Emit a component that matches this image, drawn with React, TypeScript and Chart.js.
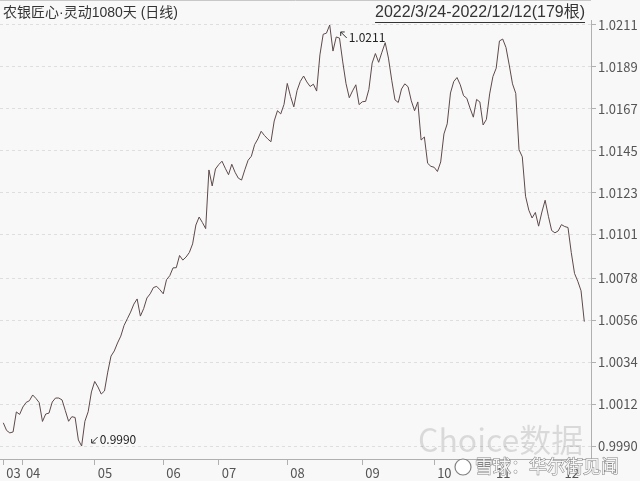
import React, { useEffect, useRef } from 'react';
import { Chart, registerables } from 'chart.js';

Chart.register(...registerables);

const fundName = '农银匠心·灵动1080天 (日线)';
const rangeLabel = '2022/3/24-2022/12/12(179根)';
const watermarkMain = 'Choice数据';
const watermarkSub = '雪球：华尔街见闻';

const monthTickIndex = [0, 6, 28, 49, 66, 87, 110, 132, 150, 171];
const monthTickLabels = ['03', '04', '05', '06', '07', '08', '09', '10', '11', '12'];

const yTickValues = [0.999, 1.0012, 1.0034, 1.0056, 1.0078, 1.0101, 1.0123, 1.0145, 1.0167, 1.0189, 1.0211];

const navValues = [
  1.00022, 0.99982, 0.99969, 0.99974, 1.00079, 1.00066, 1.00105, 1.00129, 1.00138, 1.00168,
  1.0015, 1.00128, 1.00029, 1.00068, 1.00073, 1.00131, 1.00152, 1.00152, 1.00142, 1.00086,
  1.0003, 1.00054, 1.0005, 0.99932, 0.999, 1.0003, 1.0008, 1.00184, 1.00239, 1.0021,
  1.00173, 1.00189, 1.00288, 1.00372, 1.00399, 1.00441, 1.00477, 1.00533, 1.00568, 1.00603,
  1.00645, 1.00672, 1.00582, 1.00621, 1.00677, 1.00699, 1.00732, 1.00738, 1.0072, 1.00699,
  1.00773, 1.00794, 1.00835, 1.00836, 1.009, 1.00876, 1.00892, 1.00916, 1.00961, 1.0106,
  1.01102, 1.01073, 1.01041, 1.01349, 1.01265, 1.01354, 1.01377, 1.01395, 1.01358, 1.01324,
  1.01379, 1.01337, 1.01306, 1.01296, 1.0135, 1.014, 1.01421, 1.01482, 1.01512, 1.01552,
  1.0153, 1.01512, 1.01497, 1.01606, 1.0166, 1.01643, 1.01693, 1.01803, 1.01735, 1.0168,
  1.01766, 1.01814, 1.01842, 1.01811, 1.01787, 1.01799, 1.01763, 1.01953, 1.02061, 1.02067,
  1.0211, 1.01973, 1.02047, 1.02041, 1.01916, 1.01802, 1.01728, 1.01764, 1.01796, 1.01692,
  1.01707, 1.01709, 1.01772, 1.0191, 1.0196, 1.01914, 1.01967, 1.02017, 1.01936, 1.0182,
  1.01717, 1.01703, 1.01774, 1.01801, 1.01786, 1.01712, 1.0166, 1.01706, 1.01506, 1.01522,
  1.01384, 1.01368, 1.01363, 1.01341, 1.01391, 1.01538, 1.01591, 1.01753, 1.01813, 1.01834,
  1.01796, 1.01739, 1.01725, 1.01673, 1.01626, 1.01719, 1.01706, 1.01585, 1.01614, 1.01748,
  1.01839, 1.01883, 1.02026, 1.02036, 1.01992, 1.019, 1.01801, 1.01751, 1.01455, 1.01418,
  1.01211, 1.01138, 1.01097, 1.01126, 1.01054, 1.01128, 1.0119, 1.01106, 1.01031, 1.01019,
  1.01029, 1.01062, 1.01052, 1.01047, 1.00916, 1.00806, 1.00765, 1.00715, 1.00553,
];

const FONT = '"Noto Sans CJK SC", "Noto Sans", sans-serif';
const HEADER_FONT = '"Liberation Sans", "Noto Sans CJK SC", sans-serif';

const decorPlugin = {
  id: 'decor',
  beforeDraw(chart: any) {
    const { ctx, width, height } = chart;
    ctx.save();
    ctx.fillStyle = '#f8f8f8';
    ctx.fillRect(0, 0, width, height);
    ctx.restore();
  },
  afterDatasetsDraw(chart: any) {
    const { ctx } = chart;
    const meta = chart.getDatasetMeta(0);
    let maxI = 0;
    let minI = 0;
    navValues.forEach((v, i) => {
      if (v > navValues[maxI]) maxI = i;
      if (v < navValues[minI]) minI = i;
    });
    const pMax = meta.data[maxI];
    const pMin = meta.data[minI];
    ctx.save();
    ctx.strokeStyle = '#333';
    ctx.fillStyle = '#222';
    ctx.lineWidth = 1;
    ctx.font = `12px ${FONT}`;
    ctx.textBaseline = 'middle';
    ctx.textAlign = 'left';
    {
      const ax = pMax.x + 11;
      const ay = pMax.y + 7;
      ctx.beginPath();
      ctx.moveTo(ax + 6, ay + 6);
      ctx.lineTo(ax, ay);
      ctx.moveTo(ax, ay);
      ctx.lineTo(ax + 4, ay);
      ctx.moveTo(ax, ay);
      ctx.lineTo(ax, ay + 4);
      ctx.stroke();
      ctx.fillText(navValues[maxI].toFixed(4), ax + 8, ay + 5);
    }
    {
      const ax = pMin.x + 10;
      const ay = pMin.y - 3;
      ctx.beginPath();
      ctx.moveTo(ax + 6, ay - 6);
      ctx.lineTo(ax, ay);
      ctx.moveTo(ax, ay);
      ctx.lineTo(ax + 4, ay);
      ctx.moveTo(ax, ay);
      ctx.lineTo(ax, ay - 4);
      ctx.stroke();
      ctx.fillText(navValues[minI].toFixed(4), ax + 8, ay - 4);
    }
    ctx.restore();
  },
  afterDraw(chart: any) {
    const { ctx, chartArea } = chart;
    ctx.save();
    ctx.strokeStyle = '#c8c8c8';
    ctx.lineWidth = 1;
    ctx.beginPath();
    ctx.moveTo(0, 0.5);
    ctx.lineTo(chartArea.right, 0.5);
    ctx.stroke();
    ctx.textBaseline = 'middle';
    ctx.fillStyle = '#333';
    ctx.textAlign = 'left';
    ctx.font = `14px ${HEADER_FONT}`;
    ctx.fillText(fundName, 3, 13);
    ctx.textAlign = 'right';
    const rx = chartArea.right - 6;
    ctx.font = `16px ${HEADER_FONT}`;
    ctx.fillText(rangeLabel, rx, 13);
    const w = ctx.measureText(rangeLabel).width;
    ctx.strokeStyle = '#333';
    ctx.beginPath();
    ctx.moveTo(rx - w, 22.5);
    ctx.lineTo(rx, 22.5);
    ctx.stroke();
    ctx.textAlign = 'left';
    ctx.font = `32px ${FONT}`;
    ctx.fillStyle = 'rgba(0,0,0,0.12)';
    ctx.fillText(watermarkMain, 418, 440);
    ctx.strokeStyle = 'rgba(90,90,90,0.75)';
    ctx.fillStyle = 'rgba(255,255,255,0.9)';
    ctx.lineWidth = 1.2;
    ctx.beginPath();
    ctx.arc(463, 467, 8, 0, Math.PI * 2);
    ctx.fill();
    ctx.stroke();
    ctx.font = `18px ${FONT}`;
    ctx.lineWidth = 1;
    ctx.strokeText(watermarkSub, 475, 466);
    ctx.fillText(watermarkSub, 475, 466);
    ctx.restore();
  },
};

export default function App() {
  const canvasRef = useRef<HTMLCanvasElement | null>(null);

  useEffect(() => {
    const canvas = canvasRef.current;
    if (!canvas) return;
    const chart = new Chart(canvas, {
      type: 'line',
      data: {
        datasets: [
          {
            data: navValues.map((v, i) => ({ x: i, y: v })),
            borderColor: '#5e4a4a',
            borderWidth: 1,
            pointRadius: 0,
            tension: 0,
            fill: false,
          },
        ],
      },
      options: {
        animation: false,
        responsive: false,
        maintainAspectRatio: false,
        layout: { padding: { top: 20, left: 0, right: 0, bottom: 0 } },
        plugins: {
          legend: { display: false },
          title: { display: false },
          tooltip: { enabled: false },
        },
        scales: {
          x: {
            type: 'linear',
            min: -1.01,
            max: 180.05,
            afterBuildTicks: (scale: any) => {
              scale.ticks = monthTickIndex.map((v) => ({ value: v }));
            },
            afterFit: (scale: any) => {
              scale.height = 22;
            },
            ticks: {
              autoSkip: false,
              maxRotation: 0,
              align: 'start',
              labelOffset: 3,
              padding: 0,
              color: '#555',
              font: { size: 13, family: FONT },
              callback: (value: any) => {
                const k = monthTickIndex.indexOf(Number(value));
                return k >= 0 ? monthTickLabels[k] : '';
              },
            },
            grid: {
              drawOnChartArea: false,
              drawTicks: true,
              tickLength: 6,
              color: '#b0b0b0',
            },
            border: { display: true, color: '#b0b0b0' },
          },
          y: {
            type: 'linear',
            position: 'right',
            min: 0.99832,
            max: 1.02136,
            afterBuildTicks: (scale: any) => {
              scale.ticks = yTickValues.map((v) => ({ value: v }));
            },
            afterFit: (scale: any) => {
              scale.width = 49;
            },
            ticks: {
              padding: 2,
              color: '#555',
              font: { size: 13, family: FONT },
              callback: (value: any) => Number(value).toFixed(4),
            },
            grid: {
              drawOnChartArea: true,
              drawTicks: true,
              tickLength: 5,
              color: '#dedede',
              tickColor: '#b0b0b0',
            },
            border: { display: true, color: '#b0b0b0', dash: [3, 3] },
          },
        },
      },
      plugins: [decorPlugin],
    });
    return () => chart.destroy();
  }, []);

  return (
    <div style={{ position: 'fixed', left: 0, top: 0, width: 640, height: 481 }}>
      <canvas ref={canvasRef} width={640} height={481} style={{ display: 'block' }} />
    </div>
  );
}
